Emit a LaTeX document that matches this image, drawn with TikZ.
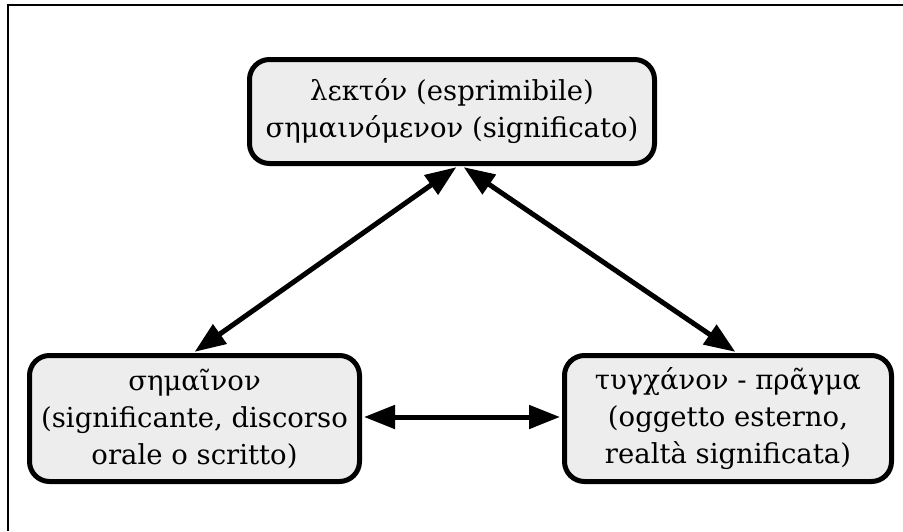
\documentclass[tikz,border=0pt]{standalone}
\usepackage{fontspec}
\setmainfont{DejaVu Serif}
\usetikzlibrary{arrows.meta,calc}
\tikzset{
  concept/.style={draw=black, line width=5pt, fill=black!7, rounded corners=20pt,
    align=center, inner sep=0pt, font=\fontsize{27.5}{37}\selectfont},
  link/.style={line width=5pt, {Triangle[length=31pt,width=23pt]}-{Triangle[length=31pt,width=23pt]},
    shorten <=2pt, shorten >=2pt},
  frame/.style={line width=1.2pt}
}
\begin{document}
\begin{tikzpicture}[x=1pt,y=-1pt]
\useasboundingbox (0,0) rectangle (903,531);
\draw[frame] (8,531) -- (8,5) -- (903,5);
\node[concept, minimum width=405pt, minimum height=104pt] (top) at (452,111.5)
  {λεκτόν (esprimibile)\\σημαινόμενον (significato)};
\node[concept, minimum width=330pt, minimum height=126pt] (left) at (194.5,418.5)
  {σημαῖνον\\(significante, discorso\\orale o scritto)};
\node[concept, minimum width=327pt, minimum height=126pt] (right) at (728,418.5)
  {τυγχάνον - πρᾶγμα\\(oggetto esterno,\\realtà significata)};
\draw[link] ([xshift=-1.5pt]left.north) -- ([xshift=6pt]top.south);
\draw[link] ([xshift=10pt]top.south) -- ([xshift=9pt]right.north);
\draw[link] ([yshift=1.5pt]left.east) -- ([yshift=1.5pt]right.west);
\end{tikzpicture}
\end{document}
